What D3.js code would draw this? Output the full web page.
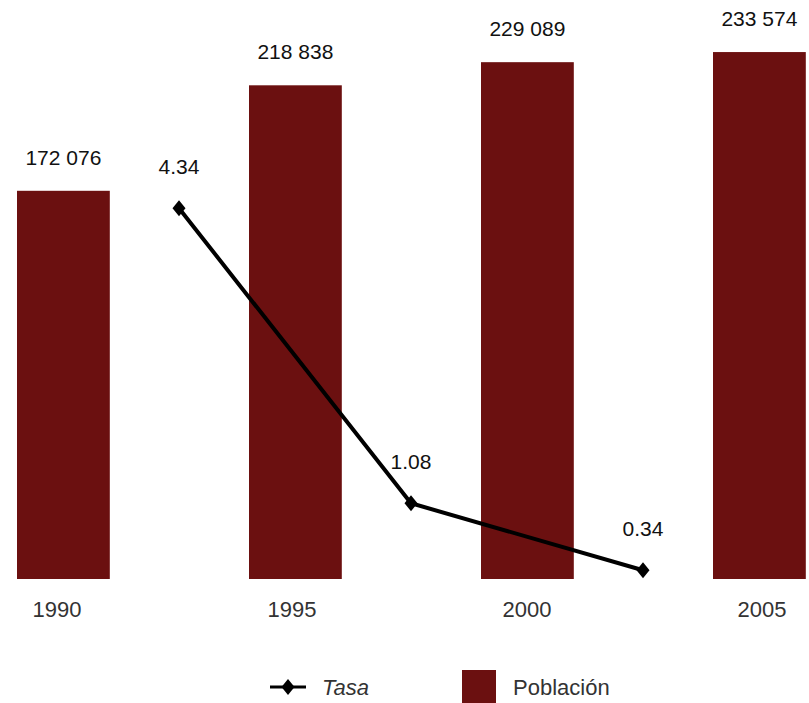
<!DOCTYPE html>
<html><head><meta charset="utf-8">
<script src="https://cdn.jsdelivr.net/npm/d3@7"></script>
<style>body{margin:0;background:#fff}svg{display:block}text{font-family:"Liberation Sans",Arial,sans-serif}</style>
</head><body>
<svg id="c" width="809" height="703"></svg>
<script>
const years = ["1990","1995","2000","2005"];
const poblacion = [172076, 218838, 229089, 233574];
const tasaPeriods = ["1990-1995","1995-2000","2000-2005"];
const tasa = [4.34, 1.08, 0.34];

const svg = d3.select("#c");
const color = "#6B1010";

const xb = d3.scaleBand().domain(years).range([-52.6, 875.4]).paddingInner(0.6).paddingOuter(0.3);
const xLab = d3.scalePoint().domain(years).range([57, 762]);
const yBar = d3.scaleLinear().domain([0, 250000]).range([579, 15]);
const yLine = d3.scaleLinear().domain([0, 5]).range([601, 148.5]);
const xLine = d3.scalePoint().domain(tasaPeriods).range([179, 643]);

const fmt = v => d3.format(",")(v).replace(/,/g, " ");

svg.selectAll("rect.bar").data(years).join("rect")
  .attr("class","bar")
  .attr("x", d => xb(d)).attr("width", xb.bandwidth())
  .attr("y", (d,i) => yBar(poblacion[i]))
  .attr("height", (d,i) => yBar(0) - yBar(poblacion[i]))
  .attr("fill", color);

svg.selectAll("text.bl").data(years).join("text")
  .attr("class","bl")
  .attr("x", d => xb(d) + xb.bandwidth()/2)
  .attr("y", (d,i) => yBar(poblacion[i]) - 26)
  .attr("text-anchor","middle").attr("font-size", 21).attr("fill","#111")
  .text((d,i) => fmt(poblacion[i]));

svg.selectAll("text.xl").data(years).join("text")
  .attr("class","xl")
  .attr("x", d => xLab(d))
  .attr("y", 617)
  .attr("text-anchor","middle").attr("font-size", 22).attr("fill","#333")
  .text(d => d);

const line = d3.line().x((d,i) => xLine(tasaPeriods[i])).y(d => yLine(d));
svg.append("path").datum(tasa).attr("d", line)
  .attr("fill","none").attr("stroke","#000").attr("stroke-width",4);

const diamond = "M0,-8L6.5,0L0,8L-6.5,0Z";
svg.selectAll("path.mk").data(tasa).join("path")
  .attr("class","mk")
  .attr("transform",(d,i) => `translate(${xLine(tasaPeriods[i])},${yLine(d)})`)
  .attr("d", diamond).attr("fill","#000");

svg.selectAll("text.ll").data(tasa).join("text")
  .attr("class","ll")
  .attr("x",(d,i) => xLine(tasaPeriods[i]))
  .attr("y", d => yLine(d) - 34)
  .attr("text-anchor","middle").attr("font-size", 21).attr("fill","#111")
  .text(d => d.toFixed(2));

const lg = svg.append("g");
lg.append("line").attr("x1",270).attr("x2",306).attr("y1",687).attr("y2",687)
  .attr("stroke","#000").attr("stroke-width",3);
lg.append("path").attr("d",diamond).attr("transform","translate(288,687)").attr("fill","#000");
lg.append("text").attr("x",322).attr("y",695).attr("font-size",22).attr("font-style","italic").attr("fill","#333").text("Tasa");
lg.append("rect").attr("x",462).attr("y",670).attr("width",34).attr("height",34).attr("fill",color);
lg.append("text").attr("x",513).attr("y",695).attr("font-size",22).attr("fill","#333").text("Población");
</script>
</body></html>
